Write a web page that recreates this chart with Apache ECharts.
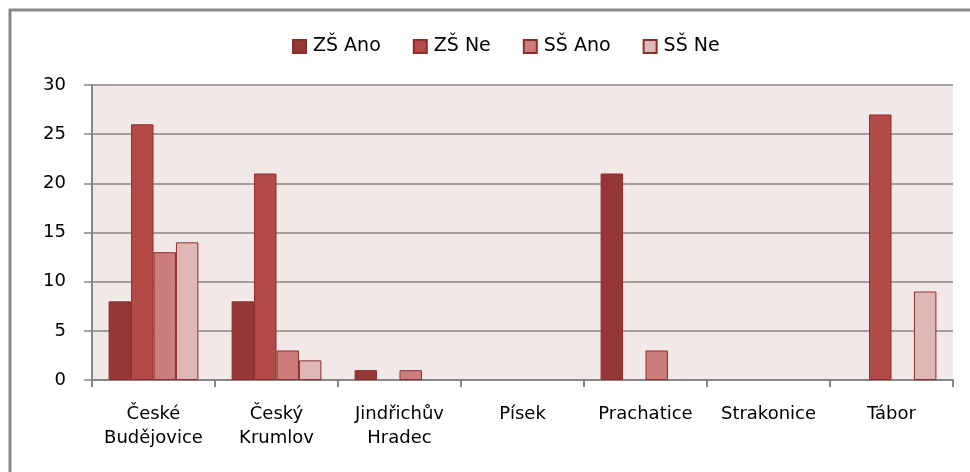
<!DOCTYPE html>
<html><head><meta charset="utf-8">
<script src="https://cdn.jsdelivr.net/npm/echarts@6/dist/echarts.min.js"></script>
<style>html,body{margin:0;padding:0;background:#fff}#c{width:970px;height:472px}</style>
</head><body><div id="c"></div>
<script>
const categories = ['České\nBudějovice', 'Český\nKrumlov', 'Jindřichův\nHradec', 'Písek', 'Prachatice', 'Strakonice', 'Tábor'];
const zsAno = [8, 8, 1, 0, 21, 0, 0];
const zsNe  = [26, 21, 0, 0, 0, 0, 27];
const ssAno = [13, 3, 1, 0, 3, 0, 0];
const ssNe  = [14, 2, 0, 0, 0, 0, 9];
const yTicks = {min: 0, max: 30, interval: 5};

const names = ['ZŠ Ano', 'ZŠ Ne', 'SŠ Ano', 'SŠ Ne'];
const colors = ['#953735', '#B44A48', '#CC7D7B', '#DFB7B7'];
const datas = [zsAno, zsNe, ssAno, ssNe];

const chart = echarts.init(document.getElementById('c'));
chart.setOption({
  animation: false,
  graphic: [{
    type: 'rect', shape: {x: 10, y: 10, width: 1000, height: 500},
    style: {fill: 'none', stroke: '#878787', lineWidth: 3}, silent: true, z: -10
  }],
  legend: {
    top: 32, left: 287, itemWidth: 13, itemHeight: 13, itemGap: 32, icon: 'rect',
    textStyle: {fontFamily: 'DejaVu Sans', fontSize: 19, color: '#000', padding: [0, 0, 0, 2]},
    data: names
  },
  grid: {left: 92, top: 85, right: 17, bottom: 92, show: true, backgroundColor: '#F2E8E8', borderWidth: 0},
  xAxis: {
    type: 'category', data: categories,
    axisLine: {lineStyle: {color: '#868686', width: 2}},
    axisTick: {show: true, length: 7, lineStyle: {color: '#868686', width: 2}},
    axisLabel: {fontFamily: 'DejaVu Sans', fontSize: 18, color: '#000', margin: 22, lineHeight: 24, interval: 0}
  },
  yAxis: {
    type: 'value', min: yTicks.min, max: yTicks.max, interval: yTicks.interval,
    axisLine: {show: true, lineStyle: {color: '#868686', width: 2}},
    axisTick: {show: true, length: 8, lineStyle: {color: '#868686', width: 1.5}},
    splitLine: {lineStyle: {color: '#868686', width: 1.5}},
    axisLabel: {fontFamily: 'DejaVu Sans', fontSize: 18, color: '#000', margin: 26}
  },
  series: names.map((n, i) => ({
    name: n, type: 'bar', data: datas[i].map(v => v === 0 ? null : v),
    barGap: '0%', barCategoryGap: '27%',
    itemStyle: {color: colors[i], borderColor: '#8B2E2C', borderWidth: 1}
  }))
});
</script></body></html>
